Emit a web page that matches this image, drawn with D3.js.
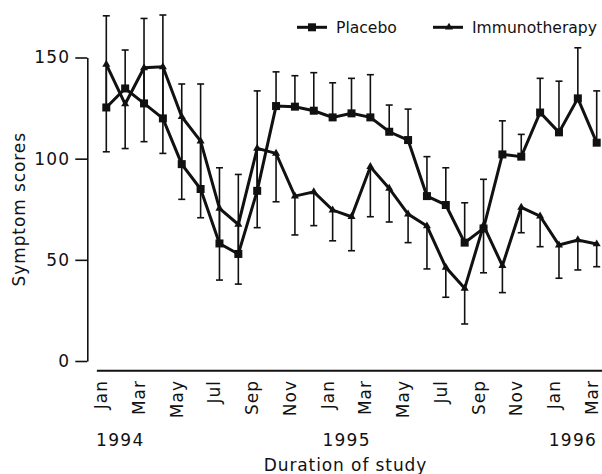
<!DOCTYPE html>
<html>
<head>
<meta charset="utf-8">
<script src="https://cdn.jsdelivr.net/npm/d3@7"></script>
<style>
  html, body { margin: 0; padding: 0; background: #fff; }
  svg { display: block; }
  text { font-family: "DejaVu Sans", sans-serif; fill: #111; }
</style>
</head>
<body>
<svg id="chart" width="602" height="474"></svg>
<script>
// ---- data ----
const months = ["Jan","Feb","Mar","Apr","May","Jun","Jul","Aug","Sep","Oct","Nov","Dec",
                "Jan","Feb","Mar","Apr","May","Jun","Jul","Aug","Sep","Oct","Nov","Dec",
                "Jan","Feb","Mar"];
const years = [{label: "1994", index: 0}, {label: "1995", index: 12}, {label: "1996", index: 24}];
const placebo = [125.3,134.7,127.3,119.9,97.3,85,58.1,52.9,84.1,126,125.7,123.7,120.4,122.4,
                 120.4,113.3,109.2,81.5,77.1,58.5,65.5,102.1,101,122.8,113,129.8,107.9];
const placeboErr = [45.3,19,42,51.1,39.6,51.9,37.4,39.3,49.4,16.9,15.3,18.8,17.1,17.3,
                    21.1,13.2,15.3,19.5,18.4,19.7,24.3,16.6,11,16.9,25.3,25,25.6];
const immuno = [146.6,127,144.9,145.4,120.7,108.7,75.4,67.5,105.1,102.6,81.5,83.6,74.6,71.3,
                96,85.3,72.6,66.7,46.3,35.9,67,47.1,75.9,71.6,57.3,59.8,57.8];
const immunoErr = [43.2,22,36.5,42.8,40.8,37.9,35.4,29.5,39.2,23.9,19.2,16.7,15.2,16.8,
                   24.7,16.6,14.1,21.2,14.8,17.6,23.4,13.3,12.5,15.1,16.4,14.8,11.2];
const yTicks = [0, 50, 100, 150];
const seriesNames = ["Placebo", "Immunotherapy"];

// ---- layout ----
const W = 602, H = 474;
const svg = d3.select("#chart");
const x = d3.scaleLinear().domain([0, months.length - 1]).range([106.3, 596.7]);
const y = d3.scaleLinear().domain([0, 150]).range([361, 57.5]);

// y axis
const yAxis = svg.append("g").attr("transform", "translate(87.3,0)")
  .call(d3.axisLeft(y).tickValues(yTicks).tickSize(12).tickSizeOuter(0).tickPadding(5));
yAxis.select(".domain").attr("stroke", "#111").attr("stroke-width", 1.6);
yAxis.selectAll(".tick line").attr("stroke", "#111").attr("stroke-width", 1.6);
yAxis.selectAll(".tick text").attr("font-size", 17).attr("letter-spacing", "1.2px")
  .attr("font-family", "DejaVu Sans").attr("fill", "#111");

// x axis line
svg.append("line")
  .attr("x1", x(-0.5)).attr("x2", W)
  .attr("y1", 370.7).attr("y2", 370.7)
  .attr("stroke", "#111").attr("stroke-width", 2);

// month labels
const mIdx = d3.range(0, months.length, 2);
svg.append("g").selectAll("text").data(mIdx).join("text")
  .attr("transform", d => `translate(${x(d) + 1},380) rotate(-90)`)
  .attr("text-anchor", "end")
  .attr("font-size", 17).attr("letter-spacing", "1px")
  .text(d => months[d]);

// year labels
svg.append("g").selectAll("text").data(years).join("text")
  .attr("x", d => x(d.index) + 14).attr("y", 446)
  .attr("text-anchor", "middle")
  .attr("font-size", 17).attr("letter-spacing", "1.3px")
  .text(d => d.label);

// axis titles
svg.append("text")
  .attr("x", 345.5).attr("y", 471)
  .attr("text-anchor", "middle").attr("font-size", 17).attr("letter-spacing", "0.9px")
  .text("Duration of study");
svg.append("text")
  .attr("transform", `translate(24.5,${(y(0) + y(150)) / 2}) rotate(-90)`)
  .attr("text-anchor", "middle").attr("font-size", 17).attr("letter-spacing", "0.9px")
  .text("Symptom scores");

// error bars: placebo upward, immunotherapy downward
const cap = 3.5;
function errBars(vals, errs, dir) {
  const g = svg.append("g").attr("stroke", "#111").attr("stroke-width", 1.6);
  vals.forEach((v, i) => {
    const e = v + dir * errs[i];
    g.append("line").attr("x1", x(i)).attr("x2", x(i)).attr("y1", y(v)).attr("y2", y(e));
    g.append("line").attr("x1", x(i) - cap).attr("x2", x(i) + cap).attr("y1", y(e)).attr("y2", y(e));
  });
}
errBars(placebo, placeboErr, 1);
errBars(immuno, immunoErr, -1);

// lines
const line = d3.line().x((d, i) => x(i)).y(d => y(d));
[placebo, immuno].forEach(s => {
  svg.append("path").datum(s).attr("d", line)
    .attr("fill", "none").attr("stroke", "#111").attr("stroke-width", 3)
    .attr("stroke-linejoin", "miter");
});

// markers
const sq = 8;
svg.append("g").selectAll("rect").data(placebo).join("rect")
  .attr("x", (d, i) => x(i) - sq / 2).attr("y", d => y(d) - sq / 2)
  .attr("width", sq).attr("height", sq).attr("fill", "#111");
const tri = d3.symbol().type(d3.symbolTriangle).size(28);
svg.append("g").selectAll("path").data(immuno).join("path")
  .attr("transform", (d, i) => `translate(${x(i)},${y(d)})`)
  .attr("d", tri).attr("fill", "#111");

// legend
const leg = svg.append("g");
const legItems = [
  {name: seriesNames[0], x0: 297, type: "square"},
  {name: seriesNames[1], x0: 433, type: "triangle"}
];
legItems.forEach(it => {
  leg.append("line").attr("x1", it.x0).attr("x2", it.x0 + 30).attr("y1", 27.3).attr("y2", 27.3)
    .attr("stroke", "#111").attr("stroke-width", 3);
  if (it.type === "square") {
    leg.append("rect").attr("x", it.x0 + 15 - sq / 2).attr("y", 27.3 - sq / 2)
      .attr("width", sq).attr("height", sq).attr("fill", "#111");
  } else {
    leg.append("path").attr("transform", `translate(${it.x0 + 16},27.3)`).attr("d", tri).attr("fill", "#111");
  }
  leg.append("text").attr("x", it.x0 + 39).attr("y", 33)
    .attr("font-size", 15.6).text(it.name);
});
</script>
</body>
</html>
